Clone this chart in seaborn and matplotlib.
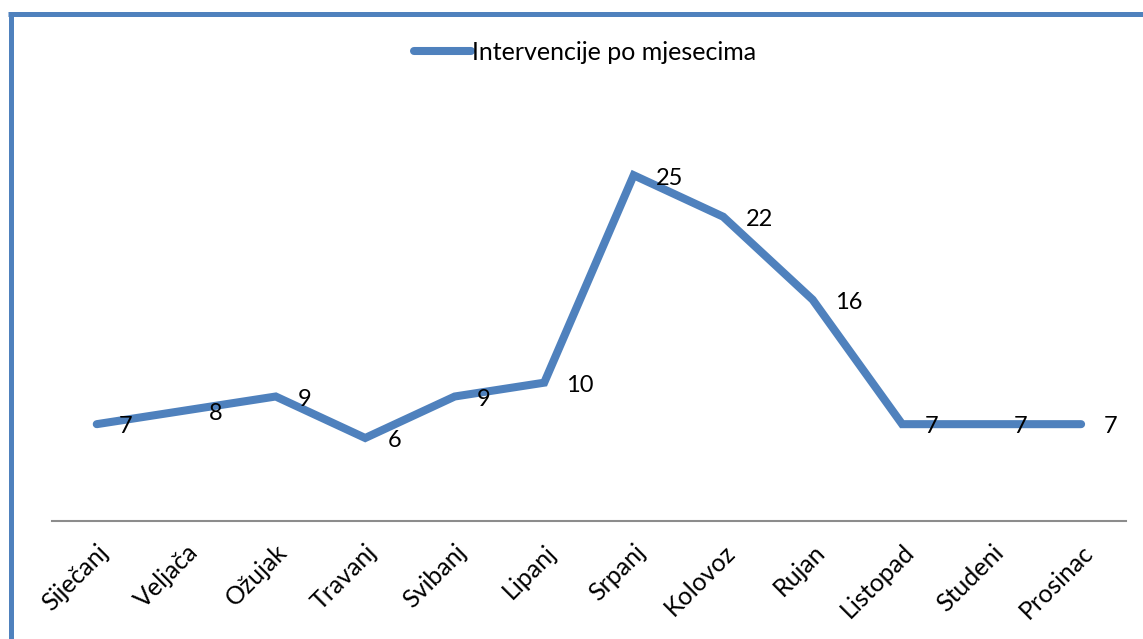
import matplotlib
matplotlib.use('Agg')
import matplotlib.pyplot as plt
import pandas as pd
import seaborn as sns
from matplotlib.lines import Line2D

# Data
months = ['Siječanj', 'Veljača', 'Ožujak', 'Travanj', 'Svibanj', 'Lipanj',
          'Srpanj', 'Kolovoz', 'Rujan', 'Listopad', 'Studeni', 'Prosinac']
interventions = [7, 8, 9, 6, 9, 10, 25, 22, 16, 7, 7, 7]
series_name = 'Intervencije po mjesecima'

blue = '#4F81BD'

sns.set_style('white')
plt.rcParams['font.family'] = ['Lato', 'DejaVu Sans']
plt.rcParams['text.color'] = 'black'
plt.rcParams['xtick.color'] = 'black'

df = pd.DataFrame({'Mjesec': months, 'Broj': interventions})

fig = plt.figure(figsize=(11.43, 6.39), dpi=100)
ax = fig.add_axes([0.0455, 0.1847, 0.9395, 0.6493])

sns.lineplot(data=df, x='Mjesec', y='Broj', ax=ax, color=blue, linewidth=5.8,
             sort=False, label=series_name, solid_capstyle='round',
             solid_joinstyle='miter')

# Value labels to the right of each point
for i, v in enumerate(interventions):
    ax.annotate(str(v), (i, v), xytext=(16, -2), textcoords='offset points',
                ha='left', va='center', fontsize=17, color='black')

ax.set_xlim(-0.5, len(months) - 0.5)
ax.set_ylim(0, 30)
ax.set_xlabel('')
ax.set_ylabel('')
ax.set_yticks([])
ax.tick_params(axis='x', length=0, pad=14, labelsize=18, labelcolor='black')
plt.setp(ax.get_xticklabels(), rotation=45, ha='right', rotation_mode='anchor')

for side in ['top', 'right', 'left']:
    ax.spines[side].set_visible(False)
ax.spines['bottom'].set_color('#8c8c8c')
ax.spines['bottom'].set_linewidth(1.5)

leg = ax.legend(loc='center', bbox_to_anchor=(585 / 1143, (639 - 52) / 639), bbox_transform=fig.transFigure,
                frameon=False, fontsize=18, handlelength=2.3, handletextpad=0.05)
for h in leg.get_lines():
    h.set_linewidth(5.8)
    h.set_solid_capstyle('round')
for t in leg.get_texts():
    t.set_color('black')

# Outer chart frame (top and left edges visible)
fig.add_artist(Line2D([10.5 / 1143, 10.5 / 1143], [0, 1 - 13.5 / 639], transform=fig.transFigure,
                      color=blue, linewidth=3.6, solid_capstyle='butt'))
fig.add_artist(Line2D([8 / 1143, 1], [1 - 13.5 / 639, 1 - 13.5 / 639], transform=fig.transFigure,
                      color=blue, linewidth=3.6, solid_capstyle='butt'))

plt.savefig('out.png', dpi=100)
plt.close()
